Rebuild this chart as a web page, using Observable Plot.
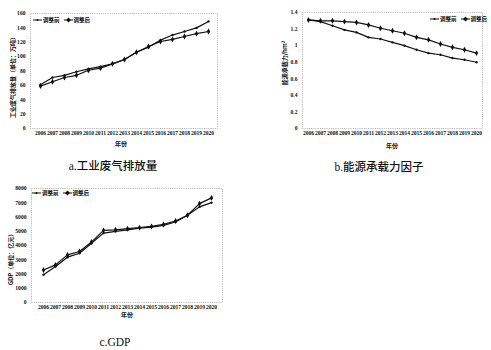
<!DOCTYPE html>
<html><head><meta charset="utf-8">
<script src="https://cdn.jsdelivr.net/npm/d3@7"></script>
<script src="https://cdn.jsdelivr.net/npm/@observablehq/plot@0.6"></script>
<style>
body{margin:0;background:#fff;}
#wrap{position:relative;width:491px;height:350px;background:#fff;overflow:hidden;}
.abs{position:absolute;}
.ytitle{position:absolute;white-space:nowrap;font-family:"Noto Sans CJK SC";font-weight:bold;font-size:6px;color:#111;transform:translate(-50%,-50%) rotate(-90deg);}
.xtitle{position:absolute;white-space:nowrap;font-family:"Noto Sans CJK SC";font-weight:bold;font-size:6px;color:#111;transform:translate(-50%,-50%);}
.cap{position:absolute;white-space:nowrap;font-family:"Liberation Serif","Noto Sans CJK SC";font-weight:500;font-size:11.5px;color:#111;transform:translate(-50%,-50%);}
.leg{position:absolute;white-space:nowrap;font-family:"Noto Sans CJK SC";font-weight:bold;font-size:5.5px;color:#111;display:flex;align-items:center;gap:1px;}
</style></head>
<body><div id="wrap"></div>
<script>
const years = [2006,2007,2008,2009,2010,2011,2012,2013,2014,2015,2016,2017,2018,2019,2020];
const seriesNames = ["调整前","调整后"];
// a. 工业废气排放量
const aBefore = [61,71,74,79,83,86,90,96,106,113,123,130,135,140,149];
const aAfter  = [59,65,71,74,81,84,90,96,106,114,121,124,128,132,135];
const aTicks = [0,20,40,60,80,100,120,140,160];
// b. 能源承载力因子
const bBefore = [1.31,1.29,1.24,1.19,1.16,1.10,1.08,1.04,1.00,0.95,0.91,0.89,0.85,0.83,0.80];
const bAfter  = [1.31,1.30,1.30,1.29,1.28,1.25,1.21,1.18,1.15,1.10,1.07,1.02,0.98,0.95,0.91];
const bTicks = [0,0.2,0.4,0.6,0.8,1,1.2,1.4];
// c. GDP
const cBefore = [1950,2520,3180,3460,4160,4870,4990,5100,5220,5290,5410,5650,6120,6710,7010];
const cAfter  = [2280,2640,3340,3580,4240,5060,5100,5180,5250,5340,5480,5720,6120,6940,7340];
const cTicks = [0,1000,2000,3000,4000,5000,6000,7000,8000];

const wrap = document.getElementById("wrap");

function makeChart(o){
  const before = years.map((y,i)=>({year:y, v:o.before[i]}));
  const after = years.map((y,i)=>({year:y, v:o.after[i]}));
  const svg = Plot.plot({
    width:o.width, height:o.height,
    marginLeft:o.ml, marginRight:o.mr, marginTop:o.mt, marginBottom:o.mb,
    style:{fontFamily:"'Liberation Serif'", fontSize:"5.6px", fontWeight:"bold", background:"transparent", color:"#111"},
    x:{type:"point", domain:years, padding:o.pad, label:null},
    y:{domain:[o.ticks[0], o.ticks[o.ticks.length-1]], label:null},
    marks:[
      Plot.frame({stroke:"#999", strokeDasharray:"1,1.2", strokeWidth:0.8}),
      Plot.axisX({tickSize:0, tickPadding:3, label:null, tickFormat:d=>String(d)}),
      Plot.axisY({ticks:o.ticks, tickSize:0, tickPadding:5, label:null, tickFormat:d=>String(d)}),
      Plot.line(before,{x:"year", y:"v", stroke:"#111", strokeWidth:1.2}),
      Plot.line(after,{x:"year", y:"v", stroke:"#111", strokeWidth:1.2}),
      Plot.dot(before,{x:"year", y:"v", r:1.2, fill:"#111", stroke:"none"}),
      Plot.dot(after,{x:"year", y:"v", symbol:"diamond", r:1.8, fill:"#111", stroke:"none"})
    ]
  });
  svg.classList.add("abs");
  svg.style.left = o.left+"px"; svg.style.top = o.top+"px";
  wrap.appendChild(svg);
}

function addDiv(cls, text, x, y){
  const d = document.createElement("div");
  d.className = cls; d.textContent = text;
  d.style.left = x+"px"; d.style.top = y+"px";
  wrap.appendChild(d);
}

function addLegend(x, y){
  const d = document.createElement("div");
  d.className = "leg";
  d.style.left = x+"px"; d.style.top = (y-4)+"px";
  d.innerHTML =
    `<svg width="9" height="6"><line x1="0" y1="3" x2="9" y2="3" stroke="#111" stroke-width="1"/><circle cx="4.5" cy="3" r="1.1" fill="#111"/></svg><span>${seriesNames[0]}</span>` +
    `<svg width="9" height="6" style="margin-left:3px"><line x1="0" y1="3" x2="9" y2="3" stroke="#111" stroke-width="1"/><path d="M4.5 0.6 L6.9 3 L4.5 5.4 L2.1 3Z" fill="#111"/></svg><span>${seriesNames[1]}</span>`;
  wrap.appendChild(d);
}

makeChart({before:aBefore, after:aAfter, ticks:aTicks, left:0, top:0, width:226, height:150, ml:30, mr:9, mt:13, mb:22, pad:0.48});
makeChart({before:bBefore, after:bAfter, ticks:bTicks, left:250, top:0, width:241, height:150, ml:52, mr:9, mt:12, mb:22, pad:0.42});
makeChart({before:cBefore, after:cAfter, ticks:cTicks, left:0, top:175, width:230, height:145, ml:31, mr:8, mt:13, mb:18, pad:0.55});

addDiv("ytitle", "工业废气排放量（单位：万吨）", 12, 76);
addDiv("ytitle", "能源承载力/hm²", 284, 63);
addDiv("ytitle", "GDP（单位：亿元）", 10, 258);
addDiv("xtitle", "年份", 121, 143);
addDiv("xtitle", "年份", 392, 145);
addDiv("xtitle", "年份", 127, 314);
addDiv("cap", "a.工业废气排放量", 113, 165);
addDiv("cap", "b.能源承载力因子", 379, 166);
addDiv("cap", "c.GDP", 115, 342);
addLegend(33, 20);
addLegend(430, 19);
addLegend(32, 193);
</script></body></html>
